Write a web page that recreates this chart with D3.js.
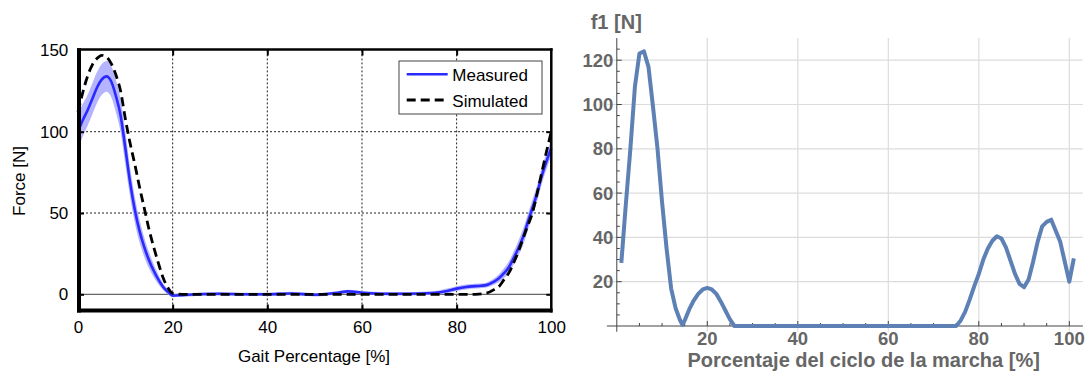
<!DOCTYPE html>
<html>
<head>
<meta charset="utf-8">
<script src="https://cdn.jsdelivr.net/npm/d3@7"></script>
<style>
  body { margin: 0; background: #fff; }
  svg { font-family: 'Liberation Sans', Arial, sans-serif; }
</style>
</head>
<body>
<svg id="chart" width="1085" height="374"></svg>
<script>
// ---- left panel: measured vs simulated force over the gait cycle
const gaitPct = [0, 1, 2, 3, 4, 5, 6, 7, 8, 9, 10, 11, 12, 13, 14, 15, 16, 17, 18, 19, 20, 22, 25, 30, 35, 40, 45, 50,
  55, 57, 60, 65, 70, 75, 78, 80, 82, 84, 86, 88, 89, 90, 91, 92, 93, 94, 95, 96, 97, 98, 99, 100];
const measuredMean = [100, 107, 113, 120, 127, 132, 134, 131, 122, 110, 90, 69, 52, 39, 29, 21, 14.5, 9, 4.5, 1.5, -0.8, -0.5, 0, 0.3, 0, 0, 0.5, -0.3,
  1, 1.8, 1, 0.3, 0.3, 0.8, 2, 3.5, 4.5, 5, 5.5, 8, 10, 13, 16.5, 22, 28, 35, 44, 53, 62, 73, 82, 90];
const measuredSpread = [11, 10, 9.5, 9.5, 9.5, 9.5, 9.5, 9.5, 10, 10, 10, 9, 8, 7, 6, 5, 4, 3, 2, 1.5, 1, 1, 1, 1, 1, 1, 1, 1,
  1, 1, 1, 1, 1, 1, 1.5, 1.5, 1.5, 1.5, 1.5, 2, 2.5, 3, 3.5, 4, 4.5, 5, 5, 5, 5, 5, 5, 5];
const simulatedForce = [112, 124, 134, 141, 145, 147, 146, 142, 135, 125, 108, 93, 80, 66, 53, 40, 29, 19, 10, 4, 0.5, 0, 0, 0, 0, 0, 0, 0,
  0, 0, 0, 0, 0, 0, 0, 0, 0, 0, 0.5, 3, 5, 9, 13, 19, 26, 34, 42, 50, 62, 75, 88, 100];
const leftXTicks = [0, 20, 40, 60, 80, 100];
const leftYTicks = [0, 50, 100, 150];
const legendKeys = ['Measured', 'Simulated'];

// ---- right panel: f1 over the gait cycle
const marchaPct = [1, 2, 3, 4, 5, 6, 7, 8, 9, 10, 11, 12, 13, 14, 14.5, 15, 16, 17, 18, 19, 20, 21, 22, 23, 24, 25, 26,
  75, 76, 77, 78, 79, 80, 81, 82, 83, 84, 85, 86, 87, 88, 89, 90, 91, 92, 93, 94, 95, 96, 97, 98, 99, 100, 101];
const f1Force = [28.5, 55, 80, 108, 123, 124, 117, 99, 80, 56, 35, 17, 8, 2.5, 0.5, 2.5, 7.5, 11.5, 14.5, 16.5, 17.2, 16.5, 14.5, 11, 7, 3, 0,
  0, 2.5, 6.5, 12, 18, 23.5, 30, 35, 38.5, 40.5, 39.5, 35.5, 29.5, 23.5, 19, 17.5, 21, 29, 38, 45, 47, 48, 43, 38, 29, 20, 30.5];
const rightXTicks = [20, 40, 60, 80, 100];
const rightYTicks = [20, 40, 60, 80, 100, 120];

const svg = d3.select('#chart');

function drawLeft() {
  const x = d3.scaleLinear().domain([0, 100]).range([78, 551.3]);
  const y = d3.scaleLinear().domain([-10, 150]).range([310.56, 50.4]);
  const g = svg.append('g');
  const rows = gaitPct.map((p, i) => ({
    p, m: measuredMean[i], s: measuredSpread[i], sim: simulatedForce[i],
  }));

  // dotted grid
  g.selectAll('.vgrid').data([20, 40, 60, 80]).join('line')
    .attr('x1', (d) => x(d)).attr('x2', (d) => x(d))
    .attr('y1', y(150)).attr('y2', y(-10))
    .attr('stroke', '#222').attr('stroke-width', 1).attr('stroke-dasharray', '2,2');
  g.selectAll('.hgrid').data([50, 100]).join('line')
    .attr('x1', x(0)).attr('x2', x(100))
    .attr('y1', (d) => y(d)).attr('y2', (d) => y(d))
    .attr('stroke', '#222').attr('stroke-width', 1).attr('stroke-dasharray', '2,2');
  // zero line
  g.append('line')
    .attr('x1', x(0)).attr('x2', x(100)).attr('y1', y(0)).attr('y2', y(0))
    .attr('stroke', '#666').attr('stroke-width', 1.2);

  // spread band + lines
  g.append('path').datum(rows)
    .attr('fill', '#b4b4ff')
    .attr('d', d3.area().curve(d3.curveMonotoneX)
      .x((d) => x(d.p)).y0((d) => y(d.m - d.s)).y1((d) => y(d.m + d.s)));
  g.append('path').datum(rows)
    .attr('fill', 'none').attr('stroke', '#2a2aff').attr('stroke-width', 2.6)
    .attr('d', d3.line().curve(d3.curveMonotoneX).x((d) => x(d.p)).y((d) => y(d.m)));
  g.append('path').datum(rows)
    .attr('fill', 'none').attr('stroke', '#000').attr('stroke-width', 2.8)
    .attr('stroke-dasharray', '9,5')
    .attr('d', d3.line().curve(d3.curveMonotoneX).x((d) => x(d.p)).y((d) => y(d.sim)));

  // frame
  g.append('line').attr('x1', 77).attr('x2', 552.6).attr('y1', 49.5).attr('y2', 49.5)
    .attr('stroke', '#000').attr('stroke-width', 2.5);
  g.append('line').attr('x1', 551.3).attr('x2', 551.3).attr('y1', 48.3).attr('y2', 312.5)
    .attr('stroke', '#000').attr('stroke-width', 2.5);
  g.append('line').attr('x1', 79).attr('x2', 79).attr('y1', 48.3).attr('y2', 312.6)
    .attr('stroke', '#000').attr('stroke-width', 4);
  g.append('line').attr('x1', 77).attr('x2', 552.6).attr('y1', 310.5).attr('y2', 310.5)
    .attr('stroke', '#000').attr('stroke-width', 4);

  // inner tick marks
  const tickStyle = (sel) => sel.call((a) => a.select('.domain').remove())
    .call((a) => a.selectAll('.tick line').attr('stroke', '#000').attr('stroke-width', 2));
  g.append('g').attr('transform', 'translate(0,310.5)')
    .call(d3.axisBottom(x).tickValues([20, 40, 60, 80]).tickSize(-6).tickFormat(''))
    .call(tickStyle);
  g.append('g').attr('transform', 'translate(0,49.5)')
    .call(d3.axisTop(x).tickValues([20, 40, 60, 80]).tickSize(-6).tickFormat(''))
    .call(tickStyle);
  g.append('g').attr('transform', 'translate(79,0)')
    .call(d3.axisLeft(y).tickValues([0, 50, 100]).tickSize(-5).tickFormat(''))
    .call(tickStyle);
  g.append('g').attr('transform', 'translate(551.3,0)')
    .call(d3.axisRight(y).tickValues([0, 50, 100]).tickSize(-5).tickFormat(''))
    .call(tickStyle);

  // tick labels
  g.append('g').attr('transform', 'translate(0,310.5)')
    .call(d3.axisBottom(x).tickValues(leftXTicks).tickSize(0).tickPadding(10.8))
    .call((a) => a.select('.domain').remove())
    .selectAll('text').attr('font-size', 17).attr('fill', '#000').attr('font-family', null);
  g.append('g').attr('transform', 'translate(78,0)')
    .call(d3.axisLeft(y).tickValues(leftYTicks).tickSize(0).tickPadding(9.7))
    .call((a) => a.select('.domain').remove())
    .selectAll('text').attr('font-size', 17).attr('fill', '#000').attr('font-family', null);

  g.append('text').attr('x', 314).attr('y', 361.7).attr('text-anchor', 'middle')
    .attr('font-size', 17).text('Gait Percentage [%]');
  g.append('text').attr('transform', 'translate(25,181) rotate(-90)').attr('text-anchor', 'middle')
    .attr('font-size', 17).text('Force [N]');

  // legend
  const lg = g.append('g');
  lg.append('rect').attr('x', 399).attr('y', 61).attr('width', 143).attr('height', 53)
    .attr('fill', '#fff').attr('stroke', '#444').attr('stroke-width', 1);
  const rowY = [74.3, 100];
  lg.selectAll('.legend-line').data(legendKeys).join('line')
    .attr('x1', 406.7).attr('x2', 447.7)
    .attr('y1', (d, i) => rowY[i]).attr('y2', (d, i) => rowY[i])
    .attr('stroke', (d, i) => (i === 0 ? '#2a2aff' : '#000'))
    .attr('stroke-width', (d, i) => (i === 0 ? 2.6 : 2.8))
    .attr('stroke-dasharray', (d, i) => (i === 0 ? null : '9,5'));
  lg.selectAll('.legend-text').data(legendKeys).join('text')
    .attr('x', 452.3).attr('y', (d, i) => rowY[i] + 6.5)
    .attr('font-size', 17).text((d) => d);
}

function drawRight() {
  const x = d3.scaleLinear().domain([0, 100]).range([616.8, 1069.3]);
  const y = d3.scaleLinear().domain([0, 120]).range([326, 60.2]);
  const g = svg.append('g');
  const xMin = -2.2; const xMax = 103; const yMin = -2.6; const yMax = 130;

  // grid
  g.selectAll('.vgrid').data(rightXTicks).join('line')
    .attr('x1', (d) => x(d)).attr('x2', (d) => x(d))
    .attr('y1', y(yMax)).attr('y2', y(yMin))
    .attr('stroke', '#dcdcdc').attr('stroke-width', 1.2);
  g.selectAll('.hgrid').data(rightYTicks).join('line')
    .attr('x1', x(xMin)).attr('x2', x(xMax))
    .attr('y1', (d) => y(d)).attr('y2', (d) => y(d))
    .attr('stroke', '#dcdcdc').attr('stroke-width', 1.2);

  // axes
  g.append('line').attr('x1', x(xMin)).attr('x2', x(xMax)).attr('y1', y(0)).attr('y2', y(0))
    .attr('stroke', '#444').attr('stroke-width', 1);
  g.append('line').attr('x1', x(0)).attr('x2', x(0)).attr('y1', y(yMin)).attr('y2', y(yMax))
    .attr('stroke', '#444').attr('stroke-width', 1);

  const xMinor = d3.range(5, 101, 5);
  const yMinor = d3.range(5, 126, 5);
  g.selectAll('.xtick').data(xMinor).join('line')
    .attr('x1', (d) => x(d)).attr('x2', (d) => x(d))
    .attr('y1', y(0)).attr('y2', (d) => y(0) - (d % 20 === 0 ? 5 : 3))
    .attr('stroke', '#444').attr('stroke-width', 1);
  g.selectAll('.ytick').data(yMinor).join('line')
    .attr('x1', x(0)).attr('x2', (d) => x(0) + (d % 20 === 0 ? 5 : 3))
    .attr('y1', (d) => y(d)).attr('y2', (d) => y(d))
    .attr('stroke', '#444').attr('stroke-width', 1);

  // labels
  g.selectAll('.xlab').data(rightXTicks).join('text')
    .attr('x', (d) => x(d)).attr('y', 345).attr('text-anchor', 'middle')
    .attr('font-size', 18.5).attr('font-weight', 'bold').attr('fill', '#666')
    .text((d) => d);
  g.selectAll('.ylab').data(rightYTicks).join('text')
    .attr('x', 613.3).attr('y', (d) => y(d) + 6.5).attr('text-anchor', 'end')
    .attr('font-size', 18.5).attr('font-weight', 'bold').attr('fill', '#666')
    .text((d) => d);
  g.append('text').attr('x', 590.7).attr('y', 29.3)
    .attr('font-size', 20).attr('font-weight', 'bold').attr('fill', '#666').text('f1 [N]');
  g.append('text').attr('x', 863.7).attr('y', 367).attr('text-anchor', 'middle')
    .attr('font-size', 20).attr('font-weight', 'bold').attr('fill', '#666')
    .text('Porcentaje del ciclo de la marcha [%]');

  // curve
  g.append('path').datum(marchaPct.map((p, i) => [p, f1Force[i]]))
    .attr('fill', 'none').attr('stroke', '#5e81b5').attr('stroke-width', 4)
    .attr('stroke-linejoin', 'round')
    .attr('d', d3.line().x((d) => x(d[0])).y((d) => y(d[1])));
}

drawLeft();
drawRight();
</script>
</body>
</html>
